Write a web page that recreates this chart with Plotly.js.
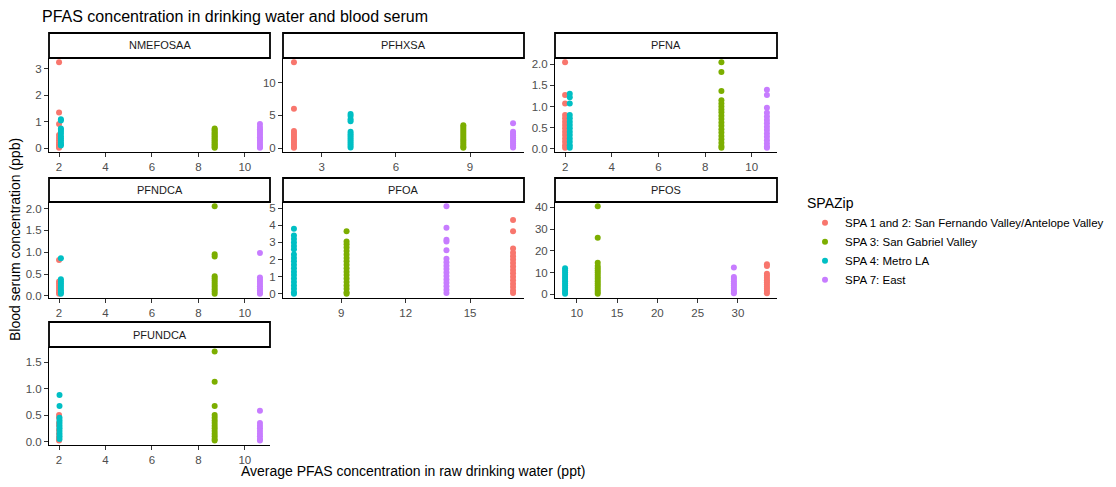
<!DOCTYPE html>
<html>
<head>
<meta charset="utf-8">
<script src="https://cdn.plot.ly/plotly-3.0.1.min.js"></script>
<style>body{margin:0;background:#fff}#plot{width:1116px;height:487px}</style>
</head>
<body>
<div id="plot"></div>
<script>
// SPA groups (legend order) and ggplot default colours
const groups = ["SPA 1 and 2: San Fernando Valley/Antelope Valley", "SPA 3: San Gabriel Valley", "SPA 4: Metro LA", "SPA 7: East"];
const colors = ["#F8766D", "#7CAE00", "#00BFC4", "#C77CFF"];
const panels = ["NMEFOSAA", "PFHXSA", "PFNA", "PFNDCA", "PFOA", "PFOS", "PFUNDCA"];

// water concentration (ppt) per panel, per group [SPA1/2, SPA3, SPA4, SPA7]
const waterX = {
  NMEFOSAA: [2.0, 8.7, 2.08, 10.65],
  PFHXSA:   [1.88, 8.73, 4.17, 10.74],
  PFNA:     [2.0, 8.7, 2.2, 10.65],
  PFNDCA:   [2.0, 8.7, 2.08, 10.65],
  PFOA:     [17.0, 9.25, 6.8, 13.9],
  PFOS:     [33.6, 12.6, 8.55, 29.5],
  PFUNDCA:  [2.0, 8.7, 2.02, 10.65]
};

// serum concentration (ppb) per panel, per group
const serum = {
  NMEFOSAA: [
    [3.25, 1.35, 0.92, 0.5, 0.4, 0.3, 0.22, 0.15, 0.1, 0.05, 0.02],
    [0.75, 0.7, 0.65, 0.6, 0.55, 0.5, 0.45, 0.4, 0.35, 0.3, 0.25, 0.2, 0.15, 0.1, 0.05, 0.02],
    [1.1, 1.05, 0.75, 0.7, 0.62, 0.55, 0.45, 0.38, 0.3, 0.22, 0.15, 0.1],
    [0.92, 0.8, 0.72, 0.65, 0.58, 0.5, 0.42, 0.35, 0.28, 0.2, 0.12, 0.05, 0.02]
  ],
  PFHXSA: [
    [13.1, 6.0, 2.6, 2.3, 2.0, 1.7, 1.4, 1.1, 0.8, 0.5, 0.2, 0.05],
    [3.5, 3.2, 2.9, 2.6, 2.3, 2.0, 1.7, 1.4, 1.1, 0.8, 0.5, 0.2, 0.05],
    [5.2, 4.9, 4.4, 4.1, 2.5, 2.2, 1.9, 1.6, 1.3, 1.0, 0.7, 0.4, 0.1],
    [3.8, 2.5, 2.2, 1.9, 1.6, 1.3, 1.0, 0.7, 0.4, 0.1]
  ],
  PFNA: [
    [2.05, 1.27, 1.07, 0.8, 0.72, 0.64, 0.56, 0.48, 0.4, 0.32, 0.24, 0.16, 0.08, 0.02],
    [2.05, 1.82, 1.37, 1.15, 1.07, 1.0, 0.93, 0.86, 0.78, 0.7, 0.62, 0.54, 0.46, 0.38, 0.3, 0.22, 0.14, 0.06, 0.02],
    [1.3, 1.22, 1.07, 0.8, 0.72, 0.64, 0.56, 0.48, 0.4, 0.32, 0.24, 0.16, 0.08, 0.02],
    [1.4, 1.27, 0.97, 0.85, 0.76, 0.68, 0.6, 0.52, 0.44, 0.36, 0.28, 0.2, 0.12, 0.05, 0.02]
  ],
  PFNDCA: [
    [0.82, 0.33, 0.28, 0.23, 0.18, 0.13, 0.08, 0.05],
    [2.05, 0.95, 0.9, 0.45, 0.4, 0.35, 0.3, 0.25, 0.2, 0.15, 0.1, 0.05],
    [0.86, 0.38, 0.33, 0.28, 0.23, 0.18, 0.13, 0.08, 0.05],
    [0.98, 0.42, 0.37, 0.32, 0.27, 0.22, 0.17, 0.12, 0.07, 0.05]
  ],
  PFOA: [
    [4.3, 3.65, 2.65, 2.4, 2.2, 2.0, 1.8, 1.6, 1.4, 1.2, 1.0, 0.8, 0.6, 0.4, 0.2, 0.05],
    [3.65, 3.05, 2.9, 2.7, 2.5, 2.3, 2.1, 1.9, 1.7, 1.5, 1.3, 1.1, 0.9, 0.7, 0.5, 0.3, 0.1, 0.02],
    [3.8, 3.4, 3.2, 3.0, 2.8, 2.6, 2.3, 2.1, 1.9, 1.7, 1.5, 1.3, 1.1, 0.9, 0.7, 0.5, 0.3, 0.1, 0.02],
    [5.1, 3.85, 3.15, 3.05, 2.55, 2.05, 1.85, 1.65, 1.45, 1.25, 1.05, 0.85, 0.65, 0.45, 0.25, 0.05]
  ],
  PFOS: [
    [13.8, 13.0, 9.5, 8.5, 7.5, 6.5, 5.5, 4.5, 3.5, 2.5, 1.5, 0.5],
    [40.5, 26.0, 14.5, 13.0, 12.0, 11.0, 10.0, 9.0, 8.0, 7.0, 6.0, 5.0, 4.0, 3.0, 2.0, 1.0, 0.3],
    [12.0, 11.0, 10.0, 9.0, 8.0, 7.0, 6.0, 5.0, 4.0, 3.0, 2.0, 1.0, 0.3],
    [12.3, 8.0, 7.0, 6.0, 5.0, 4.0, 3.0, 2.0, 1.0, 0.5]
  ],
  PFUNDCA: [
    [0.5, 0.45, 0.35, 0.3, 0.22, 0.15, 0.08, 0.04, 0.02],
    [1.7, 1.13, 0.67, 0.5, 0.45, 0.4, 0.35, 0.3, 0.25, 0.2, 0.15, 0.1, 0.05, 0.02],
    [0.88, 0.67, 0.45, 0.4, 0.35, 0.3, 0.25, 0.2, 0.15, 0.1, 0.05],
    [0.58, 0.35, 0.3, 0.25, 0.2, 0.15, 0.1, 0.05, 0.02]
  ]
};

const xDtick = {NMEFOSAA: 2, PFHXSA: 3, PFNA: 2, PFNDCA: 2, PFOA: 3, PFOS: 5, PFUNDCA: 2};
const yDtick = {NMEFOSAA: 1, PFHXSA: 5, PFNA: 0.5, PFNDCA: 0.5, PFOA: 1, PFOS: 10, PFUNDCA: 0.5};

// panel geometry in pixels
const W = 1116, H = 487;
const cols = [[49, 270], [283, 524], [555, 777]];
const rows = [{s: 33, t: 58, b: 152}, {s: 178, t: 202, b: 298}, {s: 322, t: 347, b: 445}];

function expand(vals) {
  const lo = Math.min(...vals), hi = Math.max(...vals);
  const pad = (hi - lo) * 0.05;
  return [lo - pad, hi + pad];
}

const traces = [];
const layout = {
  width: W, height: H,
  margin: {l: 0, r: 0, t: 0, b: 0},
  paper_bgcolor: "#fff", plot_bgcolor: "#fff",
  font: {family: "Liberation Sans, Arial, sans-serif", color: "#000"},
  showlegend: true,
  legend: {
    x: 805 / W, y: 1 - 190 / H, xanchor: "left", yanchor: "top",
    title: {text: "SPAZip", font: {size: 14}},
    font: {size: 11.5}, tracegroupgap: 0, itemsizing: "trace"
  },
  shapes: [], annotations: []
};

panels.forEach((p, i) => {
  const c = cols[i % 3], r = rows[Math.floor(i / 3)];
  const n = i === 0 ? "" : String(i + 1);
  const xa = "xaxis" + n, ya = "yaxis" + n;
  const allX = waterX[p], allY = serum[p].flat();
  const axCommon = {
    showline: true, linecolor: "#000", linewidth: 1, mirror: false,
    ticks: "outside", ticklen: 4, tickcolor: "#333", showgrid: false, zeroline: false,
    tickfont: {size: 11.5, color: "#4D4D4D"}
  };
  layout[xa] = Object.assign({}, axCommon, {
    domain: [c[0] / W, c[1] / W], anchor: "y" + n,
    range: expand(allX), dtick: xDtick[p], tick0: 0
  });
  layout[ya] = Object.assign({}, axCommon, {
    domain: [1 - r.b / H, 1 - r.t / H], anchor: "x" + n,
    range: expand(allY), dtick: yDtick[p], tick0: 0,
    tickformat: yDtick[p] < 1 ? ".1f" : "d"
  });
  serum[p].forEach((vals, g) => {
    traces.push({
      type: "scatter", mode: "markers",
      x: vals.map(() => waterX[p][g]), y: vals,
      xaxis: "x" + n, yaxis: "y" + n,
      name: groups[g], legendgroup: groups[g], showlegend: i === 0, legendrank: g,
      marker: {color: colors[g], size: 6}
    });
  });
  layout.shapes.push({
    type: "rect", xref: "paper", yref: "paper", layer: "below",
    x0: c[0] / W, x1: c[1] / W, y0: 1 - r.t / H, y1: 1 - r.s / H,
    line: {color: "#000", width: 1.8}, fillcolor: "#fff"
  });
  layout.annotations.push({
    xref: "paper", yref: "paper", x: (c[0] + c[1]) / 2 / W, y: 1 - (r.s + r.t) / 2 / H,
    xanchor: "center", yanchor: "middle",
    text: p, showarrow: false, font: {size: 11, color: "#1A1A1A"}
  });
});

layout.annotations.push(
  {xref: "paper", yref: "paper", x: 40 / W, y: 1 - 16 / H, xanchor: "left", yanchor: "middle", text: "PFAS concentration in drinking water and blood serum", showarrow: false, font: {size: 16}},
  {xref: "paper", yref: "paper", x: 413 / W, y: 1 - 471 / H, xanchor: "center", yanchor: "middle", text: "Average PFAS concentration in raw drinking water (ppt)", showarrow: false, font: {size: 14}},
  {xref: "paper", yref: "paper", x: 15 / W, y: 1 - 240 / H, xanchor: "center", yanchor: "middle", text: "Blood serum concentration (ppb)", textangle: -90, showarrow: false, font: {size: 14}}
);

Plotly.newPlot("plot", traces, layout, {displayModeBar: false});
</script>
</body>
</html>
